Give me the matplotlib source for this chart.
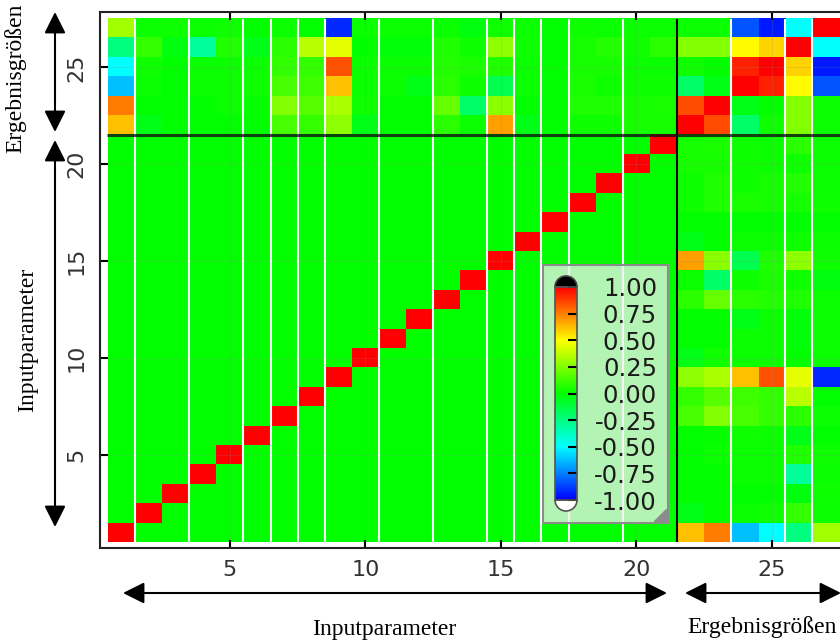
import numpy as np
import matplotlib
matplotlib.use("Agg")
import matplotlib.pyplot as plt
from matplotlib.colors import LinearSegmentedColormap
from matplotlib.patches import Rectangle, Polygon, Wedge

plt.rcParams['axes.unicode_minus'] = False

# Korrelationen Ergebnisgrößen (22..27) gegen Inputparameter 1..21
erg22 = [0.62, -0.04, 0.00, 0.00, 0.00, 0.00, 0.14, 0.10, 0.28, -0.04, 0.00, 0.00, 0.08, 0.02, 0.68, -0.04, 0.00, 0.03, 0.03, 0.04, 0.04]
erg23 = [0.75, 0.00, 0.00, 0.00, 0.02, 0.01, 0.25, 0.17, 0.33, 0.03, 0.00, 0.00, 0.20, -0.20, 0.27, 0.00, 0.00, 0.06, 0.06, 0.04, 0.05]
erg24 = [-0.62, 0.02, 0.00, 0.02, 0.02, 0.03, 0.14, 0.12, 0.62, 0.02, 0.02, -0.04, 0.08, 0.03, -0.15, 0.02, 0.00, 0.05, 0.03, 0.03, 0.03]
erg25 = [-0.50, 0.03, 0.00, 0.02, 0.02, 0.02, 0.10, 0.10, 0.84, 0.02, 0.02, 0.02, 0.07, 0.05, 0.06, 0.02, 0.00, 0.04, 0.04, 0.02, 0.02]
erg26 = [-0.25, 0.10, -0.03, -0.30, 0.06, -0.04, 0.08, 0.36, 0.45, 0.00, -0.02, -0.02, 0.06, 0.03, 0.28, 0.03, 0.00, 0.04, 0.07, 0.03, 0.08]
erg27 = [0.32, 0.02, 0.03, 0.02, 0.03, 0.00, 0.02, 0.00, -0.92, 0.02, 0.02, 0.02, 0.02, -0.03, 0.03, 0.02, 0.00, 0.03, 0.02, 0.02, 0.02]

# Ergebnisgrößen untereinander
out22 = [1.00, 0.85, -0.20, 0.03, 0.25, 0.02]
out23 = [0.85, 1.00, -0.04, 0.00, 0.25, 0.02]
out24 = [-0.20, -0.04, 1.00, 0.93, 0.50, -0.83]
out25 = [0.03, 0.00, 0.93, 1.00, 0.58, -0.95]
out26 = [0.25, 0.25, 0.50, 0.58, 1.00, -0.50]
out27 = [0.02, 0.02, -0.83, -0.95, -0.50, 1.00]

n_input = 21
ticks = [5, 10, 15, 20, 25]
cbar_ticks = [1.00, 0.75, 0.50, 0.25, 0.00, -0.25, -0.50, -0.75, -1.00]
white_sep = [1.5, 3.5, 5.5, 6.5, 7.5, 8.5, 10.5, 12.5, 14.5, 15.5, 16.5, 17.5, 19.5, 23.5, 25.5, 26.5]
block_sep = 21.5

# Matrix zusammenbauen (symmetrisch)
erg = np.array([erg22, erg23, erg24, erg25, erg26, erg27])
out = np.array([out22, out23, out24, out25, out26, out27])
n = n_input + len(erg)
M = np.zeros((n, n))
M[:n_input, :n_input] = np.eye(n_input)
M[n_input:, :n_input] = erg
M[:n_input, n_input:] = erg.T
M[n_input:, n_input:] = out

cmap = LinearSegmentedColormap.from_list('corr', ['#0000FF', '#00FFFF', '#00FF00', '#FFFF00', '#FF0000'])
cmap.set_over('black')
cmap.set_under('white')

W, H = 840, 642
fig = plt.figure(figsize=(W / 100, H / 100), dpi=100)

ax = fig.add_axes([100 / W, 94 / H, 747.5 / W, 536 / H])
im = ax.imshow(M, origin='lower', extent=(0.5, n + 0.5, 0.5, n + 0.5), aspect='auto',
               cmap=cmap, vmin=-1, vmax=1, interpolation='nearest')
ax.set_xlim(0.205, 27.795)
ax.set_ylim(0.19, 27.86)
ax.set_xticks(ticks)
ax.set_yticks(ticks)
ax.tick_params(direction='in', length=6, width=1.5, top=True, right=True,
               labelsize=16, labelcolor='#333333', pad=9)
ax.tick_params(axis='y', labelrotation=90, pad=10)
for lab in ax.get_yticklabels():
    lab.set_va('center')
for sp in ax.spines.values():
    sp.set_linewidth(1.5)
    sp.set_color('#222222')
ax.grid(True, color='#888888', alpha=0.2, lw=0.8)

ax.vlines(white_sep, 0.5, n + 0.5, colors='white', lw=1.5, zorder=3)
ax.vlines(block_sep, 0.5, n + 0.5, colors='black', lw=1.5, zorder=4)
ax.hlines(block_sep, 0.45, 27.8, colors='#111111', lw=2.2, alpha=0.8, zorder=4)

# Overlay in Pixelkoordinaten (Legendenbox, Pfeile, Beschriftungen)
ov = fig.add_axes([0, 0, 1, 1], zorder=1)
ov.set_xlim(0, W)
ov.set_ylim(H, 0)
ov.axis('off')

ov.add_patch(Rectangle((543, 265), 125, 258, fc=(0.94, 0.94, 0.94, 0.75), ec='#8c8c8c', lw=1.5))
ov.add_patch(Polygon([(666, 509), (666, 521), (654, 521)], closed=True, color='#8c8c8c'))
ov.add_patch(Wedge((566, 287), 11, 180, 360, fc='black', ec='#444444', lw=1.2))
ov.add_patch(Wedge((566, 500), 11, 0, 180, fc='white', ec='#555555', lw=1.2))

arrow = dict(arrowstyle='<|-|>,head_length=1.3,head_width=0.65', color='black', lw=1.5,
             shrinkA=0, shrinkB=0)
ov.annotate('', xy=(123, 593), xytext=(667, 593), arrowprops=arrow)
ov.annotate('', xy=(685, 593), xytext=(841, 593), arrowprops=arrow)
ov.annotate('', xy=(55, 12), xytext=(55, 132), arrowprops=arrow)
ov.annotate('', xy=(55, 140), xytext=(55, 527), arrowprops=arrow)

serif = dict(fontsize=17, family='Liberation Serif', color='black')
ov.text(384, 629, 'Inputparameter', ha='center', va='center', **serif)
ov.text(762, 627, 'Ergebnisgrößen', ha='center', va='center', **serif)
ov.text(15, 78, 'Ergebnisgrößen', ha='center', va='center', rotation=90, **serif)
ov.text(28, 340, 'Inputparameter', ha='center', va='center', rotation=90, **serif)

# Farbskala
cax = fig.add_axes([555 / W, (H - 500) / H, 22 / W, 213 / H], zorder=2)
cbar = fig.colorbar(im, cax=cax, ticks=cbar_ticks)
cbar.set_ticklabels([f'{t:.2f}' for t in cbar_ticks])
cbar.outline.set_edgecolor('#555555')
cbar.outline.set_linewidth(1.2)
cbar.ax.tick_params(direction='in', length=6.5, width=1.5, color='black', pad=57.6,
                    labelsize=17.5, labelcolor='#1a1a1a')
for lab in cbar.ax.get_yticklabels():
    lab.set_ha('right')

fig.savefig('out.png', dpi=100)
